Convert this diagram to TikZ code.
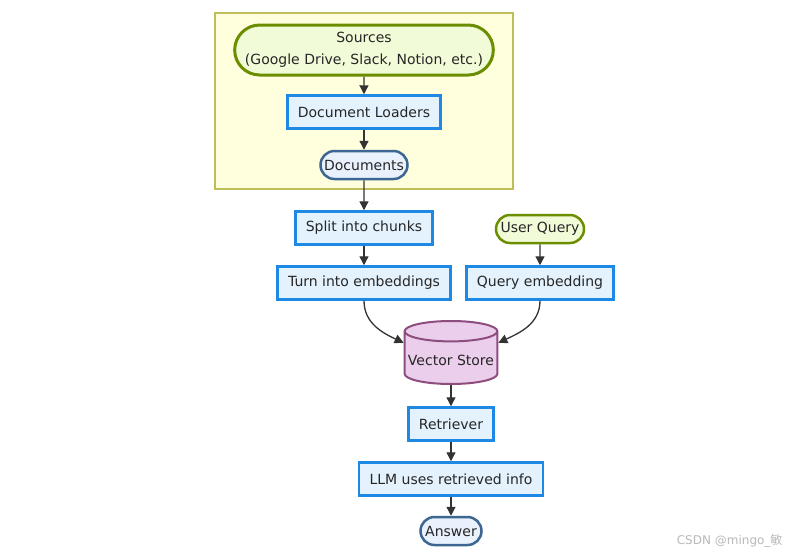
\documentclass[tikz,border=0pt]{standalone}
\usepackage{fontspec}
\setmainfont{DejaVu Sans}
\newfontfamily\cjkfont{Noto Sans CJK SC}
\usetikzlibrary{shapes.geometric, shapes.misc, arrows.meta, positioning}
\definecolor{clusterfill}{HTML}{FFFFDE}
\definecolor{clusterline}{HTML}{BDBD5A}
\definecolor{srcfill}{HTML}{F1FBD8}
\definecolor{srcline}{HTML}{6B8E00}
\definecolor{stepfill}{HTML}{E3F2FD}
\definecolor{stepline}{HTML}{1E88E5}
\definecolor{docfill}{HTML}{E8F1FC}
\definecolor{docline}{HTML}{3D6693}
\definecolor{storefill}{HTML}{EBCEEB}
\definecolor{storeline}{HTML}{8E4D7F}
\definecolor{arrowgray}{HTML}{333333}

\begin{document}
\begin{tikzpicture}[
    x=1pt, y=-1pt,
    every node/.style={font=\fontsize{14}{17}\selectfont, text=black!85},
    box/.style={draw=stepline, fill=stepfill, line width=2.5pt,
                minimum height=33, inner xsep=10.5pt},
    src/.style={rounded rectangle, draw=srcline, fill=srcfill,
                line width=3pt, minimum height=28, inner xsep=3pt},
    doc/.style={rounded rectangle, draw=docline, fill=docfill,
                line width=2.5pt, minimum height=28, inner xsep=3pt},
    store/.style={cylinder, shape border rotate=90, aspect=0.22,
                  draw=storeline, fill=storefill, line width=2pt,
                  minimum width=92, minimum height=63},
    arr/.style={-{Triangle[length=9pt, width=9pt]}, line width=1.3pt,
                draw=arrowgray}
  ]
    \useasboundingbox (0,0) rectangle (788,555);
    \fill[white] (0,0) rectangle (788,555);

    \node[draw=clusterline, fill=clusterfill, line width=1.2pt,
          minimum width=298, minimum height=176] (ingest) at (364,101) {};

    \node[src, minimum width=257, minimum height=50, align=center,
          font=\fontsize{14}{22}\selectfont] (sources) at (364,50)
      {Sources\\(Google Drive, Slack, Notion, etc.)};
    \node[box] (loaders) at (364,112) {Document Loaders};
    \node[doc, minimum width=93] (docs) at (364,165) {Documents};

    \node[box] (split) at (364,228) {Split into chunks};
    \node[box] (embed) at (364,283) {Turn into embeddings};
    \node[src, minimum width=94, line width=2.5pt] (query) at (540,229) {User Query};
    \node[box] (qembed) at (540,283) {Query embedding};

    \node[store] (vstore) at (451,360) {Vector Store};
    \node[box] (retriever) at (451,424) {Retriever};
    \node[box] (llm) at (451,479) {LLM uses retrieved info};
    \node[doc, minimum width=67] (answer) at (451,531) {Answer};

    \node[anchor=east, text=gray!55, font=\fontsize{12}{14}\selectfont]
      (mark) at (786,541) {CSDN @mingo\_{\cjkfont 敏}};

    \draw[arr] (sources) -- (loaders);
    \draw[arr] (loaders) -- (docs);
    \draw[arr] (docs) -- (split);
    \draw[arr] (split) -- (embed);
    \draw[arr] (query) -- (qembed);
    \draw[arr] (embed.south) to[out=-90, in=155] (vstore.160);
    \draw[arr] (qembed.south) to[out=-90, in=25] (vstore.20);
    \draw[arr] (vstore) -- (retriever);
    \draw[arr] (retriever) -- (llm);
    \draw[arr] (llm) -- (answer);
  \end{tikzpicture}
\end{document}
